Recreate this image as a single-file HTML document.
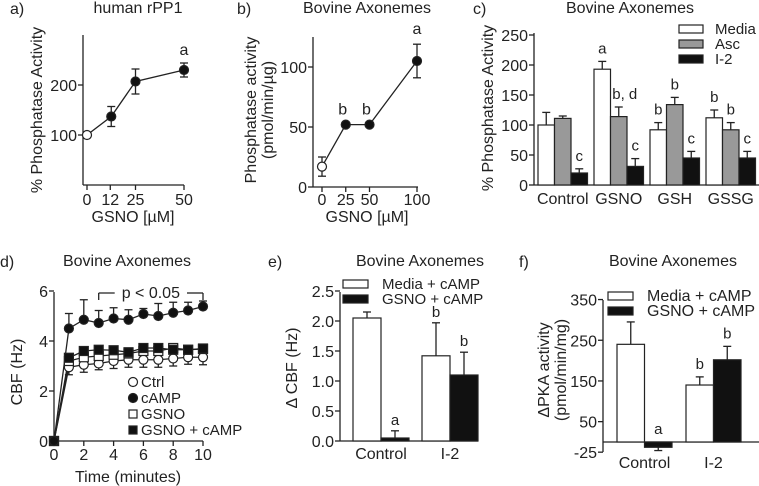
<!DOCTYPE html>
<html><head><meta charset="utf-8">
<style>
html,body{margin:0;padding:0;background:#fff;}
svg{display:block;font-family:"Liberation Sans",Arial,sans-serif;}
text{fill:#222;}
</style></head>
<body>
<svg id="fig" width="759" height="486" viewBox="0 0 759 486" xmlns="http://www.w3.org/2000/svg">
<g id="static" font-size="16">
  <text x="10" y="14">a)</text>
  <text x="138" y="13" text-anchor="middle">human rPP1</text>
  <text x="237" y="14">b)</text>
  <text x="367" y="13" text-anchor="middle">Bovine Axonemes</text>
  <text x="473" y="14">c)</text>
  <text x="630" y="13" text-anchor="middle">Bovine Axonemes</text>
  <text x="0" y="267">d)</text>
  <text x="127" y="266" text-anchor="middle">Bovine Axonemes</text>
  <text x="268" y="267">e)</text>
  <text x="420" y="266" text-anchor="middle">Bovine Axonemes</text>
  <text x="519" y="267">f)</text>
  <text x="673" y="266" text-anchor="middle">Bovine Axonemes</text>

  <text transform="translate(42,110) rotate(-90)" text-anchor="middle">% Phosphatase Activity</text>
  <text x="133" y="222" text-anchor="middle">GSNO [µM]</text>
  <text transform="translate(256,110) rotate(-90)" text-anchor="middle">Phosphatase activity</text>
  <text transform="translate(273,110) rotate(-90)" text-anchor="middle">(pmol/min/µg)</text>
  <text x="367" y="222" text-anchor="middle">GSNO [µM]</text>
  <text transform="translate(493,108) rotate(-90)" text-anchor="middle">% Phosphatase Activity</text>
  <text transform="translate(22,372) rotate(-90)" text-anchor="middle">CBF (Hz)</text>
  <text x="128" y="482" text-anchor="middle">Time (minutes)</text>
  <text transform="translate(297,368) rotate(-90)" text-anchor="middle">Δ CBF (Hz)</text>
  <text transform="translate(549,370) rotate(-90)" text-anchor="middle">ΔPKA activity</text>
  <text transform="translate(566,370) rotate(-90)" text-anchor="middle">(pmol/min/mg)</text>
</g>
<g id="plots"></g>
</svg>
<script>
// ---- panel a data
const aDoses = [0, 12.5, 25, 50];
const aMeans = [100, 137, 207, 230];
const aErrs = [0, 20, 25, 14];
const aTickX = [0, 12, 25, 50];
const aTickY = [100, 200];
// ---- panel b data
const bDoses = [0, 25, 50, 100];
const bMeans = [17, 52, 52, 105];
const bErrs = [8, 0, 0, 14];
const bTickX = [0, 25, 50, 100];
const bTickY = [0, 50, 100];
// ---- panel c data
const cGroups = ["Control", "GSNO", "GSH", "GSSG"];
const cSeries = ["Media", "Asc", "I-2"];
const cMedia = [100, 193, 92, 112];
const cAsc = [111, 114, 134, 92];
const cI2 = [20, 31, 45, 45];
const cMediaErr = [21, 13, 12, 13];
const cAscErr = [4, 16, 12, 12];
const cI2Err = [7, 13, 11, 11];
const cMediaSig = ["", "a", "b", "b"];
const cAscSig = ["", "b, d", "b", "b"];
const cI2Sig = ["c", "c", "c", "c"];
const cTickY = [0, 50, 100, 150, 200, 250];
// ---- panel d data
const dTimes = [0,1,2,3,4,5,6,7,8,9,10];
const dCtrl = [0,2.95,3.05,3.1,3.2,3.25,3.25,3.25,3.3,3.35,3.35];
const dCamp = [0,4.5,4.85,4.72,4.9,4.85,5.08,5.0,5.13,5.22,5.38];
const dGsno = [0,3.2,3.35,3.4,3.45,3.5,3.6,3.6,3.72,3.65,3.68];
const dGsnoCamp = [0,3.33,3.6,3.65,3.63,3.55,3.72,3.72,3.65,3.65,3.7];
const dCtrlErr = [0,0.3,0.3,0.25,0.3,0.3,0.3,0.3,0.3,0.28,0.3];
const dCampErr = [0,0.6,0.8,0.5,0.43,0.4,0.22,0.5,0.42,0.33,0.22];
const dTickX = [0,2,4,6,8,10];
const dTickY = [0,2,4,6];
// ---- panel e data
const eGroups = ["Control", "I-2"];
const eMedia = [2.05, 1.42];
const eGsno = [0.05, 1.1];
const eMediaErr = [0.1, 0.55];
const eGsnoErr = [0.12, 0.38];
const eMediaSig = ["", "b"];
const eGsnoSig = ["a", "b"];
const eTickY = [0.0, 0.5, 1.0, 1.5, 2.0, 2.5];
// ---- panel f data
const fGroups = ["Control", "I-2"];
const fMedia = [240, 140];
const fGsno = [-13, 202];
const fMediaErr = [55, 20];
const fGsnoErr = [8, 33];
const fMediaSig = ["", "b"];
const fGsnoSig = ["a", "b"];
const fTickY = [-25, 50, 150, 250, 350];

const NS = "http://www.w3.org/2000/svg";
const root = document.getElementById("plots");
function mk(tag, attrs, parent) {
  const e = document.createElementNS(NS, tag);
  for (const k in attrs) e.setAttribute(k, attrs[k]);
  (parent || root).appendChild(e);
  return e;
}
function lin(d0, d1, r0, r1) { return v => r0 + (v - d0) * (r1 - r0) / (d1 - d0); }
function line(x1, y1, x2, y2, name, w) {
  const e = mk("line", {x1, y1, x2, y2, stroke: "#222", "stroke-width": w || 1.3});
  
  
  return e;
}
function txt(x, y, s, name, anchor, size) {
  const e = mk("text", {x, y, "text-anchor": anchor || "middle", "font-size": size || 16});
  e.textContent = s;
  
  
  return e;
}
function errbar(x, y, yTop, name) {
  line(x, y, x, yTop, name);
  line(x - 4, yTop, x + 4, yTop, name + "-cap");
}
function errbar2(x, yLo, yHi, name) {
  line(x, yLo, x, yHi, name);
  line(x - 4, yLo, x + 4, yLo, name + "-cap-low");
  line(x - 4, yHi, x + 4, yHi, name + "-cap-high");
}
function yAxis(x, y0, y1, ticks, ys, name, fmt) {
  line(x, y0, x, y1, name);
  ticks.forEach(t => {
    line(x - 5, ys(t), x, ys(t), name + "-tick");
    txt(x - 6, ys(t) + 6, fmt ? fmt(t) : String(t), name + "-tick-label", "end", 16);
  });
}

// ===== Panel a
(function(){
  const xs = lin(0, 50, 87, 184), ys = lin(0, 100, 185, 135);
  yAxis(83, 35, 185, aTickY, ys, "y-axis-a");
  line(83, 185, 184, 185, "x-axis-a");
  aTickX.forEach(t => { line(xs(t), 185, xs(t), 190, "x-tick-a"); txt(xs(t), 205, String(t), "x-tick-label-a", "middle", 16); });
  const pts = aDoses.map((d, i) => [xs(d), ys(aMeans[i])]);
  const p = mk("polyline", {points: pts.map(q => q.join(",")).join(" "), fill: "none", stroke: "#222", "stroke-width": 1.3});
  
  
  aDoses.forEach((d, i) => {
    if (aErrs[i]) errbar2(xs(d), ys(aMeans[i] - aErrs[i]), ys(aMeans[i] + aErrs[i]), "error-bar-a");
    const c = mk("circle", {cx: xs(d), cy: ys(aMeans[i]), r: 4.5, fill: i === 0 ? "#fff" : "#111", stroke: "#222", "stroke-width": 1.2});
    
    
  });
  txt(xs(50), ys(aMeans[3] + aErrs[3]) - 8, "a", "sig-label-a");
})();

// ===== Panel b
(function(){
  const xs = lin(0, 100, 322, 417), ys = lin(0, 50, 187, 127);
  yAxis(313, 37, 187, bTickY, ys, "y-axis-b");
  line(313, 187, 418, 187, "x-axis-b");
  bTickX.forEach(t => { line(xs(t), 187, xs(t), 192, "x-tick-b"); txt(xs(t), 205, String(t), "x-tick-label-b", "middle", 16); });
  const pts = bDoses.map((d, i) => [xs(d), ys(bMeans[i])]);
  const p = mk("polyline", {points: pts.map(q => q.join(",")).join(" "), fill: "none", stroke: "#222", "stroke-width": 1.3});
  
  
  bDoses.forEach((d, i) => {
    if (bErrs[i]) errbar2(xs(d), ys(bMeans[i] - bErrs[i]), ys(bMeans[i] + bErrs[i]), "error-bar-b");
    const c = mk("circle", {cx: xs(d), cy: ys(bMeans[i]), r: 4.5, fill: i === 0 ? "#fff" : "#111", stroke: "#222", "stroke-width": 1.2});
    
    
  });
  const bSig = ["", "b", "b", "a"];
  bDoses.forEach((d, i) => { if (bSig[i]) txt(xs(d) - (i === 3 ? 0 : 3), ys(bMeans[i] + bErrs[i]) - 10, bSig[i], "sig-label-b"); });
})();

// ===== Panel c
(function(){
  const ys = lin(0, 50, 185, 155);
  yAxis(534, 33, 185, cTickY, ys, "y-axis-c");
  line(534, 185, 759, 185, "x-axis-c");
  const fills = ["#fff", "#999", "#111"];
  const vals = [cMedia, cAsc, cI2], errs = [cMediaErr, cAscErr, cI2Err], sigs = [cMediaSig, cAscSig, cI2Sig];
  const bw = 16.5;
  cGroups.forEach((g, gi) => {
    const gx = 538 + gi * 56;
    vals.forEach((arr, si) => {
      const x = gx + si * bw, v = arr[gi];
      errbar(x + bw / 2, ys(v), ys(v + errs[si][gi]), "error-bar-c");
      const r = mk("rect", {x, y: ys(v), width: bw, height: ys(0) - ys(v), fill: fills[si], stroke: "#222", "stroke-width": 1.2});
      
      
      const s = sigs[si][gi];
      if (s) txt(x + bw / 2 + (s.length > 1 ? 6 : 0), ys(v + errs[si][gi]) - 8, s, "sig-label-c", "middle", 15);
    });
    txt(gx + 1.5 * bw, 204, g, "x-tick-label-c", "middle", 16);
  });
  cSeries.forEach((s, i) => {
    const r = mk("rect", {x: 679, y: 25 + i * 15, width: 24, height: 8, fill: fills[i], stroke: "#222", "stroke-width": 1.2});
    
    
    txt(715, 34 + i * 15, s, "legend-entry-c", "start", 15);
  });
})();

// ===== Panel d
(function(){
  const xs = lin(0, 10, 54, 203), ys = lin(0, 2, 441, 391);
  yAxis(54, 292, 441, dTickY, ys, "y-axis-d");
  line(54, 441, 203, 441, "x-axis-d");
  dTickX.forEach(t => { line(xs(t), 441, xs(t), 446, "x-tick-d"); txt(xs(t), 460, String(t), "x-tick-label-d", "middle", 16); });
  const series = [
    {v: dCtrl, e: dCtrlErr, shape: "circle", fill: "#fff", n: "ctrl"},
    {v: dGsno, e: null, shape: "square", fill: "#fff", n: "gsno"},
    {v: dGsnoCamp, e: null, shape: "square", fill: "#111", n: "gsno-camp"},
    {v: dCamp, e: dCampErr, shape: "circle", fill: "#111", n: "camp"}
  ];
  series.forEach(s => {
    if (s.e) dTimes.forEach((t, i) => { if (s.e[i]) {
      if (s.n === "ctrl") errbar2(xs(t), ys(s.v[i] - s.e[i]), ys(s.v[i] + s.e[i]), "error-bar-d-" + s.n);
      else errbar(xs(t), ys(s.v[i]), ys(s.v[i] + s.e[i]), "error-bar-d-" + s.n);
    }});
    const p = mk("polyline", {points: dTimes.map((t, i) => xs(t) + "," + ys(s.v[i])).join(" "), fill: "none", stroke: "#222", "stroke-width": 1.3});
    
    
  });
  series.forEach(s => {
    dTimes.forEach((t, i) => {
      let m;
      if (s.shape === "circle") m = mk("circle", {cx: xs(t), cy: ys(s.v[i]), r: 4.5, fill: s.fill, stroke: "#222", "stroke-width": 1.2});
      else m = mk("rect", {x: xs(t) - 4.5, y: ys(s.v[i]) - 4.5, width: 9, height: 9, fill: s.fill, stroke: "#222", "stroke-width": 1.2});
      
      
    });
  });
  const bx0 = xs(3), bx1 = xs(10), by = 293;
  line(bx0, by + 7, bx0, by, "p-bracket-d");
  line(bx0, by, bx0 + 16, by, "p-bracket-d");
  line(bx1 - 16, by, bx1, by, "p-bracket-d");
  line(bx1, by, bx1, by + 7, "p-bracket-d");
  txt((bx0 + bx1) / 2, by + 5, "p < 0.05", "p-value-label-d", "middle", 16);
  const legend = [["circle", "#fff", "Ctrl"], ["circle", "#111", "cAMP"], ["square", "#fff", "GSNO"], ["square", "#111", "GSNO + cAMP"]];
  legend.forEach((l, i) => {
    const y = 382 + i * 16;
    let m;
    if (l[0] === "circle") m = mk("circle", {cx: 133, cy: y, r: 4.5, fill: l[1], stroke: "#222", "stroke-width": 1.2});
    else m = mk("rect", {x: 129, y: y - 4, width: 8, height: 8, fill: l[1], stroke: "#222", "stroke-width": 1.2});
    
    
    txt(141, y + 5, l[2], "legend-entry-d", "start", 15);
  });
})();

// ===== Panel e
(function(){
  const ys = lin(0, 0.5, 441, 411);
  yAxis(340, 292, 441, eTickY, ys, "y-axis-e", t => t.toFixed(1));
  line(340, 441, 478, 441, "x-axis-e");
  const bw = 28;
  eGroups.forEach((g, gi) => {
    const gx = 353 + gi * 69;
    [[eMedia, eMediaErr, eMediaSig, "#fff", "media"], [eGsno, eGsnoErr, eGsnoSig, "#111", "gsno"]].forEach((s, si) => {
      const x = gx + si * bw, v = s[0][gi], top = ys(v + s[1][gi]);
      errbar(x + bw / 2, ys(v), top, "error-bar-e");
      const r = mk("rect", {x, y: ys(v), width: bw, height: ys(0) - ys(v), fill: s[3], stroke: "#222", "stroke-width": 1.2});
      
      
      if (s[2][gi]) txt(x + bw / 2, top - 6, s[2][gi], "sig-label-e", "middle", 15);
    });
    txt(gx + bw, 459, g, "x-tick-label-e", "middle", 16);
  });
  [["#fff", "Media + cAMP"], ["#111", "GSNO + cAMP"]].forEach((l, i) => {
    const r = mk("rect", {x: 343, y: 280 + i * 15, width: 25, height: 8, fill: l[0], stroke: "#222", "stroke-width": 1.2});
    
    
    txt(382, 289 + i * 15, l[1], "legend-entry-e", "start", 15);
  });
})();

// ===== Panel f
(function(){
  const ys = lin(0, 100, 442, 401.3);
  yAxis(603, 300, 452, fTickY, ys, "y-axis-f");
  line(603, 442, 759, 442, "x-axis-f");
  const bw = 27.5;
  fGroups.forEach((g, gi) => {
    const gx = 617 + gi * 69;
    [[fMedia, fMediaErr, fMediaSig, "#fff", "media"], [fGsno, fGsnoErr, fGsnoSig, "#111", "gsno"]].forEach((s, si) => {
      const x = gx + si * bw, v = s[0][gi];
      const endV = v >= 0 ? v + s[1][gi] : v - s[1][gi];
      errbar(x + bw / 2, ys(v), ys(endV), "error-bar-f");
      const y0 = Math.min(ys(v), ys(0)), h = Math.abs(ys(0) - ys(v));
      const r = mk("rect", {x, y: y0, width: bw, height: h, fill: s[3], stroke: "#222", "stroke-width": 1.2});
      
      
      if (s[2][gi]) txt(x + bw / 2, (v >= 0 ? ys(endV) : ys(0)) - 8, s[2][gi], "sig-label-f", "middle", 15);
    });
    txt(gx + bw, 468, g, "x-tick-label-f", "middle", 16);
  });
  [["#fff", "Media + cAMP"], ["#111", "GSNO + cAMP"]].forEach((l, i) => {
    const r = mk("rect", {x: 608, y: 292 + i * 15, width: 25, height: 8, fill: l[0], stroke: "#222", "stroke-width": 1.2});
    
    
    txt(647, 301 + i * 15, l[1], "legend-entry-f", "start", 16);
  });
})();
</script>
</body></html>
